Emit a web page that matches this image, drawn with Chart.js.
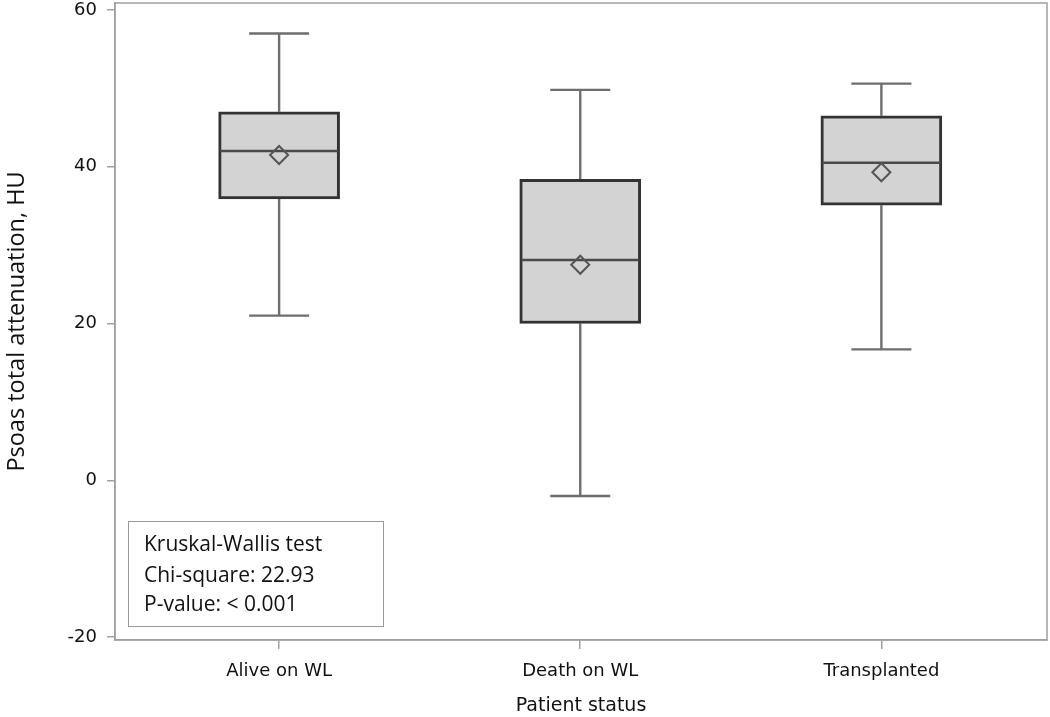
<!DOCTYPE html>
<html>
<head>
<meta charset="utf-8">
<script src="https://cdn.jsdelivr.net/npm/chart.js@4"></script>
<style>
  html, body { margin: 0; padding: 0; background: #ffffff; }
  #wrap { width: 1050px; height: 717px; }
</style>
</head>
<body>
<div id="wrap"><canvas id="c" width="1050" height="717"></canvas></div>
<script>
// ---- data ----
const categories  = ['Alive on WL', 'Death on WL', 'Transplanted'];
const whiskerLow  = [21.0, -2.0, 16.7];
const q1          = [35.9, 20.0, 35.1];
const median      = [42.0, 28.1, 40.5];
const q3          = [47.0, 38.4, 46.5];
const whiskerHigh = [57.0, 49.8, 50.6];
const mean        = [41.5, 27.5, 39.3];
const yTicks      = [-20, 0, 20, 40, 60];
const statLines   = ['Kruskal-Wallis test', 'Chi-square: 22.93', 'P-value: < 0.001'];

// ---- styles ----
const BOX_W = 121;
const CAP_W = 60;
const BOX_FILL = '#d3d3d3';
const BOX_EDGE = '#333333';
const WHISKER = '#6e6e6e';
const MEDIAN = '#4a4a4a';
const FRAME = '#a0a0a0';
const TEXT = '#111111';

const boxParts = {
  id: 'boxParts',
  beforeDatasetsDraw(chart) {
    const {ctx, chartArea: a, scales: {x, y}} = chart;
    ctx.save();
    // plot frame
    ctx.strokeStyle = FRAME;
    ctx.lineWidth = 1.5;
    ctx.strokeRect(a.left, a.top, a.right - a.left, a.bottom - a.top);
    // whiskers
    ctx.strokeStyle = WHISKER;
    ctx.lineWidth = 2.4;
    categories.forEach((c, i) => {
      const px = x.getPixelForValue(i + 1);
      const yHi = y.getPixelForValue(whiskerHigh[i]);
      const yLo = y.getPixelForValue(whiskerLow[i]);
      const yQ1 = y.getPixelForValue(q1[i]);
      const yQ3 = y.getPixelForValue(q3[i]);
      ctx.beginPath();
      ctx.moveTo(px, yHi); ctx.lineTo(px, yQ3);
      ctx.moveTo(px, yQ1); ctx.lineTo(px, yLo);
      ctx.moveTo(px - CAP_W / 2, yHi); ctx.lineTo(px + CAP_W / 2, yHi);
      ctx.moveTo(px - CAP_W / 2, yLo); ctx.lineTo(px + CAP_W / 2, yLo);
      ctx.stroke();
    });
    ctx.restore();
  },
  afterDatasetDraw(chart, args) {
    if (args.index !== 0) return;
    const {ctx, scales: {x, y}} = chart;
    ctx.save();
    ctx.strokeStyle = MEDIAN;
    ctx.lineWidth = 2.4;
    categories.forEach((c, i) => {
      const px = x.getPixelForValue(i + 1);
      const ym = y.getPixelForValue(median[i]);
      ctx.beginPath();
      ctx.moveTo(px - BOX_W / 2 + 1.5, ym);
      ctx.lineTo(px + BOX_W / 2 - 1.5, ym);
      ctx.stroke();
    });
    ctx.restore();
  },
  afterDraw(chart) {
    const {ctx, chartArea: a} = chart;
    const bx = a.left + 13, by = a.bottom - 119, bw = 255, bh = 105;
    ctx.save();
    ctx.fillStyle = '#ffffff';
    ctx.fillRect(bx, by, bw, bh);
    ctx.strokeStyle = '#999999';
    ctx.lineWidth = 1;
    ctx.strokeRect(bx + 0.5, by + 0.5, bw, bh);
    ctx.fillStyle = TEXT;
    ctx.font = '21px "Open Sans"';
    ctx.textBaseline = 'alphabetic';
    ctx.textAlign = 'left';
    const offs = [30, 61, 89.5];
    statLines.forEach((t, i) => ctx.fillText(t, bx + 16, by + offs[i]));
    ctx.restore();
  }
};

new Chart(document.getElementById('c'), {
  type: 'bar',
  data: {
    datasets: [
      {
        label: 'IQR',
        data: categories.map((c, i) => ({x: i + 1, y: [q1[i], q3[i]]})),
        backgroundColor: BOX_FILL,
        borderColor: BOX_EDGE,
        borderWidth: 3,
        borderSkipped: false,
        barThickness: BOX_W,
        order: 2
      },
      {
        type: 'scatter',
        label: 'Mean',
        data: categories.map((c, i) => ({x: i + 1, y: mean[i]})),
        pointStyle: 'rectRot',
        pointRadius: 9,
        pointBorderWidth: 2,
        pointBorderColor: '#555555',
        pointBackgroundColor: 'rgba(0,0,0,0)',
        order: 1
      }
    ]
  },
  options: {
    responsive: false,
    animation: false,
    layout: { autoPadding: false, padding: { top: 3, right: 3, left: 0, bottom: 0 } },
    plugins: { legend: { display: false }, tooltip: { enabled: false } },
    scales: {
      x: {
        type: 'linear',
        min: 0.455,
        max: 3.55,
        offset: false,
        afterBuildTicks: (s) => { s.ticks = categories.map((c, i) => ({value: i + 1})); },
        afterFit: (s) => { s.height = 77; s.paddingLeft = 0; s.paddingRight = 0; },
        ticks: {
          autoSkip: false,
          maxRotation: 0,
          padding: 12,
          color: TEXT,
          font: { family: '"DejaVu Sans"', size: 18 },
          callback: (v) => categories[v - 1]
        },
        grid: { display: true, drawOnChartArea: false, offset: false, tickLength: 9, color: FRAME, lineWidth: 1.5 },
        border: { display: true, color: FRAME, width: 1.5 },
        title: {
          display: true,
          text: 'Patient status',
          color: TEXT,
          font: { family: '"DejaVu Sans"', size: 19 },
          padding: { top: 0, bottom: 0 }
        }
      },
      y: {
        type: 'linear',
        min: -20.38,
        max: 60.89,
        afterBuildTicks: (s) => { s.ticks = yTicks.map(v => ({value: v})); },
        afterFit: (s) => { s.width = 115; s.paddingTop = 0; s.paddingBottom = 0; },
        ticks: {
          padding: 10,
          color: TEXT,
          font: { family: '"DejaVu Sans"', size: 18 }
        },
        grid: { display: true, drawOnChartArea: false, tickLength: 8, color: FRAME, lineWidth: 1.5 },
        border: { display: true, color: FRAME, width: 1.5 },
        title: {
          display: true,
          text: 'Psoas total attenuation, HU',
          color: TEXT,
          font: { family: '"Open Sans"', size: 23.5 },
          padding: { top: 3, bottom: 0 }
        }
      }
    }
  },
  plugins: [boxParts]
});
</script>
</body>
</html>
